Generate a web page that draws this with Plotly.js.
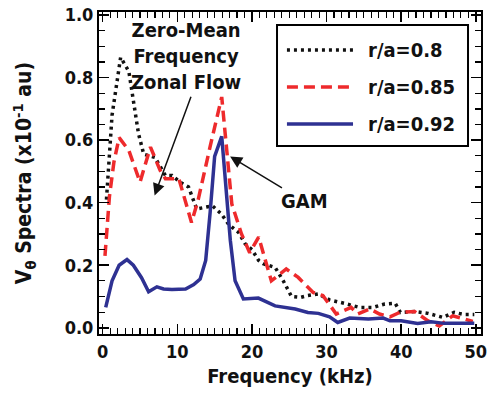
<!DOCTYPE html>
<html>
<head>
<meta charset="utf-8">
<script src="https://cdn.plot.ly/plotly-3.0.1.min.js"></script>
<style>html,body{margin:0;padding:0;background:#fff;}#chart{width:487px;height:400px;}</style>
</head>
<body>
<div id="chart"></div>
<script>
// r/a = 0.8 (black dotted)
const freq08 = [0.5, 1.25, 2.4, 3.5, 4.8, 5.5, 7.0, 8.4, 9.3, 10.4, 11.5, 12.6, 13.9, 14.7, 15.9, 16.9, 18.2, 19.1, 20.0, 20.9, 21.5, 23.1, 24.2, 25.3, 26.5, 27.5, 28.9, 30.4, 32.4, 34.4, 36.2, 37.8, 39.2, 39.9, 41.8, 43.6, 45.6, 47.1, 48.5, 49.8];
const spec08 = [0.41, 0.68, 0.865, 0.82, 0.62, 0.555, 0.545, 0.487, 0.487, 0.465, 0.45, 0.38, 0.386, 0.39, 0.364, 0.33, 0.305, 0.268, 0.25, 0.215, 0.205, 0.193, 0.15, 0.10, 0.097, 0.103, 0.108, 0.089, 0.078, 0.065, 0.065, 0.076, 0.078, 0.049, 0.052, 0.046, 0.033, 0.049, 0.042, 0.042];

// r/a = 0.85 (red dashed)
const freq085 = [0.3, 0.9, 1.5, 2.2, 3.5, 5.0, 6.4, 7.7, 8.4, 10.2, 11.9, 12.8, 14.4, 15.95, 17.3, 18.6, 19.7, 20.9, 22.6, 24.6, 26.2, 28.2, 29.5, 31.3, 33.3, 34.2, 35.8, 37.1, 38.5, 39.8, 41.8, 43.6, 45.1, 46.9, 48.5, 49.6];
const spec085 = [0.23, 0.42, 0.53, 0.608, 0.567, 0.466, 0.578, 0.503, 0.477, 0.477, 0.337, 0.41, 0.58, 0.738, 0.396, 0.30, 0.24, 0.29, 0.15, 0.188, 0.161, 0.113, 0.103, 0.044, 0.065, 0.044, 0.06, 0.044, 0.035, 0.049, 0.052, 0.022, 0.006, 0.038, 0.028, 0.02];

// r/a = 0.92 (blue solid)
const freq092 = [0.4, 1.25, 2.2, 3.25, 4.1, 5.2, 6.15, 7.26, 8.15, 9.27, 11.1, 12.2, 13.06, 13.8, 14.4, 15.0, 15.95, 16.5, 17.1, 17.74, 18.85, 20.86, 23.1, 25.8, 27.5, 28.9, 30.4, 31.5, 33.1, 35.6, 37.6, 38.5, 40.0, 42.2, 44.0, 45.8, 49.8];
const spec092 = [0.065, 0.15, 0.20, 0.218, 0.2, 0.16, 0.115, 0.131, 0.124, 0.122, 0.124, 0.138, 0.156, 0.215, 0.37, 0.548, 0.612, 0.45, 0.28, 0.15, 0.092, 0.095, 0.07, 0.06, 0.049, 0.046, 0.035, 0.017, 0.031, 0.028, 0.031, 0.022, 0.022, 0.014, 0.019, 0.014, 0.014];

const seriesNames = ['r/a=0.8', 'r/a=0.85', 'r/a=0.92'];
const xTickVals = [0, 10, 20, 30, 40, 50];
const yTickVals = [0, 0.2, 0.4, 0.6, 0.8, 1.0];
const yTickText = ['0.0', '0.2', '0.4', '0.6', '0.8', '1.0'];

const FONT = 'Liberation Sans Narrow, DejaVu Sans Condensed, Arial Narrow, Liberation Sans, Arial, sans-serif';
const colors = ['#111111', '#ee2a2c', '#2e3192'];
const dashes = ['3px,4px', '11px,6px', 'solid'];

const traces = [
  {x: freq08, y: spec08, name: seriesNames[0], mode: 'lines',
   line: {color: colors[0], width: 3.5, dash: dashes[0]}},
  {x: freq085, y: spec085, name: seriesNames[1], mode: 'lines',
   line: {color: colors[1], width: 3.5, dash: dashes[1]}},
  {x: freq092, y: spec092, name: seriesNames[2], mode: 'lines',
   line: {color: colors[2], width: 3.5}}
];

const axisCommon = {
  showgrid: false, zeroline: false, showline: true, linecolor: '#000', linewidth: 2,
  mirror: 'ticks', ticks: 'inside', ticklen: 10, tickwidth: 1.5, tickcolor: '#000',
  ticklabeloverflow: 'allow',
  tickfont: {family: FONT, size: 18, color: '#111', weight: 700}
};

// custom legend (box, sample lines, labels) in paper coordinates
const legRowY = [0.882, 0.767, 0.652];
const shapes = [
  {type: 'rect', xref: 'paper', yref: 'paper', x0: 0.466, x1: 0.966, y0: 0.584, y1: 0.960,
   line: {color: '#000', width: 2}, fillcolor: '#fff', layer: 'above'}
];
const legAnn = [];
for (let i = 0; i < 3; i++) {
  shapes.push({type: 'line', xref: 'paper', yref: 'paper', x0: 0.492, x1: 0.665, y0: legRowY[i], y1: legRowY[i],
    line: {color: colors[i], width: 3.5, dash: dashes[i]}, layer: 'above'});
  legAnn.push({xref: 'paper', yref: 'paper', x: 0.699, y: legRowY[i], xanchor: 'left', yanchor: 'middle',
    text: seriesNames[i], showarrow: false, font: {family: FONT, size: 20, color: '#111', weight: 700}});
}

const layout = {
  width: 487, height: 400,
  margin: {l: 99, r: 6, t: 12, b: 66},
  paper_bgcolor: '#fff', plot_bgcolor: '#fff',
  font: {family: FONT, size: 20, color: '#111', weight: 700},
  showlegend: false,
  xaxis: Object.assign({}, axisCommon, {
    range: [-0.5, 50.7], tickvals: xTickVals,
    minor: {dtick: 1, ticks: 'inside', ticklen: 6, tickwidth: 1.2, tickcolor: '#000'},
    title: {text: 'Frequency (kHz)', font: {family: FONT, size: 20, color: '#111', weight: 700}, standoff: 8}
  }),
  yaxis: Object.assign({}, axisCommon, {
    range: [-0.02, 1.01], tickvals: yTickVals, ticktext: yTickText,
    minor: {dtick: 0.05, ticks: 'inside', ticklen: 6, tickwidth: 1.2, tickcolor: '#000'},
    title: {text: 'V<sub>θ</sub> Spectra (x10<sup>-1</sup> au)', font: {family: FONT, size: 21, color: '#111', weight: 700}, standoff: 27}
  }),
  shapes: shapes,
  annotations: [
    {x: 11.2, y: 0.87, xref: 'x', yref: 'y', text: 'Zero-Mean<br>Frequency<br>Zonal Flow',
     showarrow: false, font: {family: FONT, size: 20, color: '#111', weight: 700}, align: 'center'},
    {x: 6.95, y: 0.423, xref: 'x', yref: 'y', ax: 11.9, ay: 0.744, axref: 'x', ayref: 'y',
     text: '', showarrow: true, arrowhead: 2, arrowsize: 1.6, arrowwidth: 1.5, arrowcolor: '#111'},
    {x: 17.07, y: 0.548, xref: 'x', yref: 'y', ax: 27.0, ay: 0.404, axref: 'x', ayref: 'y',
     text: 'GAM', showarrow: true, arrowhead: 2, arrowsize: 1.6, arrowwidth: 1.5, arrowcolor: '#111',
     standoff: 0, font: {family: FONT, size: 20, color: '#111', weight: 700}}
  ].concat(legAnn)
};

Plotly.newPlot('chart', traces, layout, {displayModeBar: false, staticPlot: true});
</script>
</body>
</html>
